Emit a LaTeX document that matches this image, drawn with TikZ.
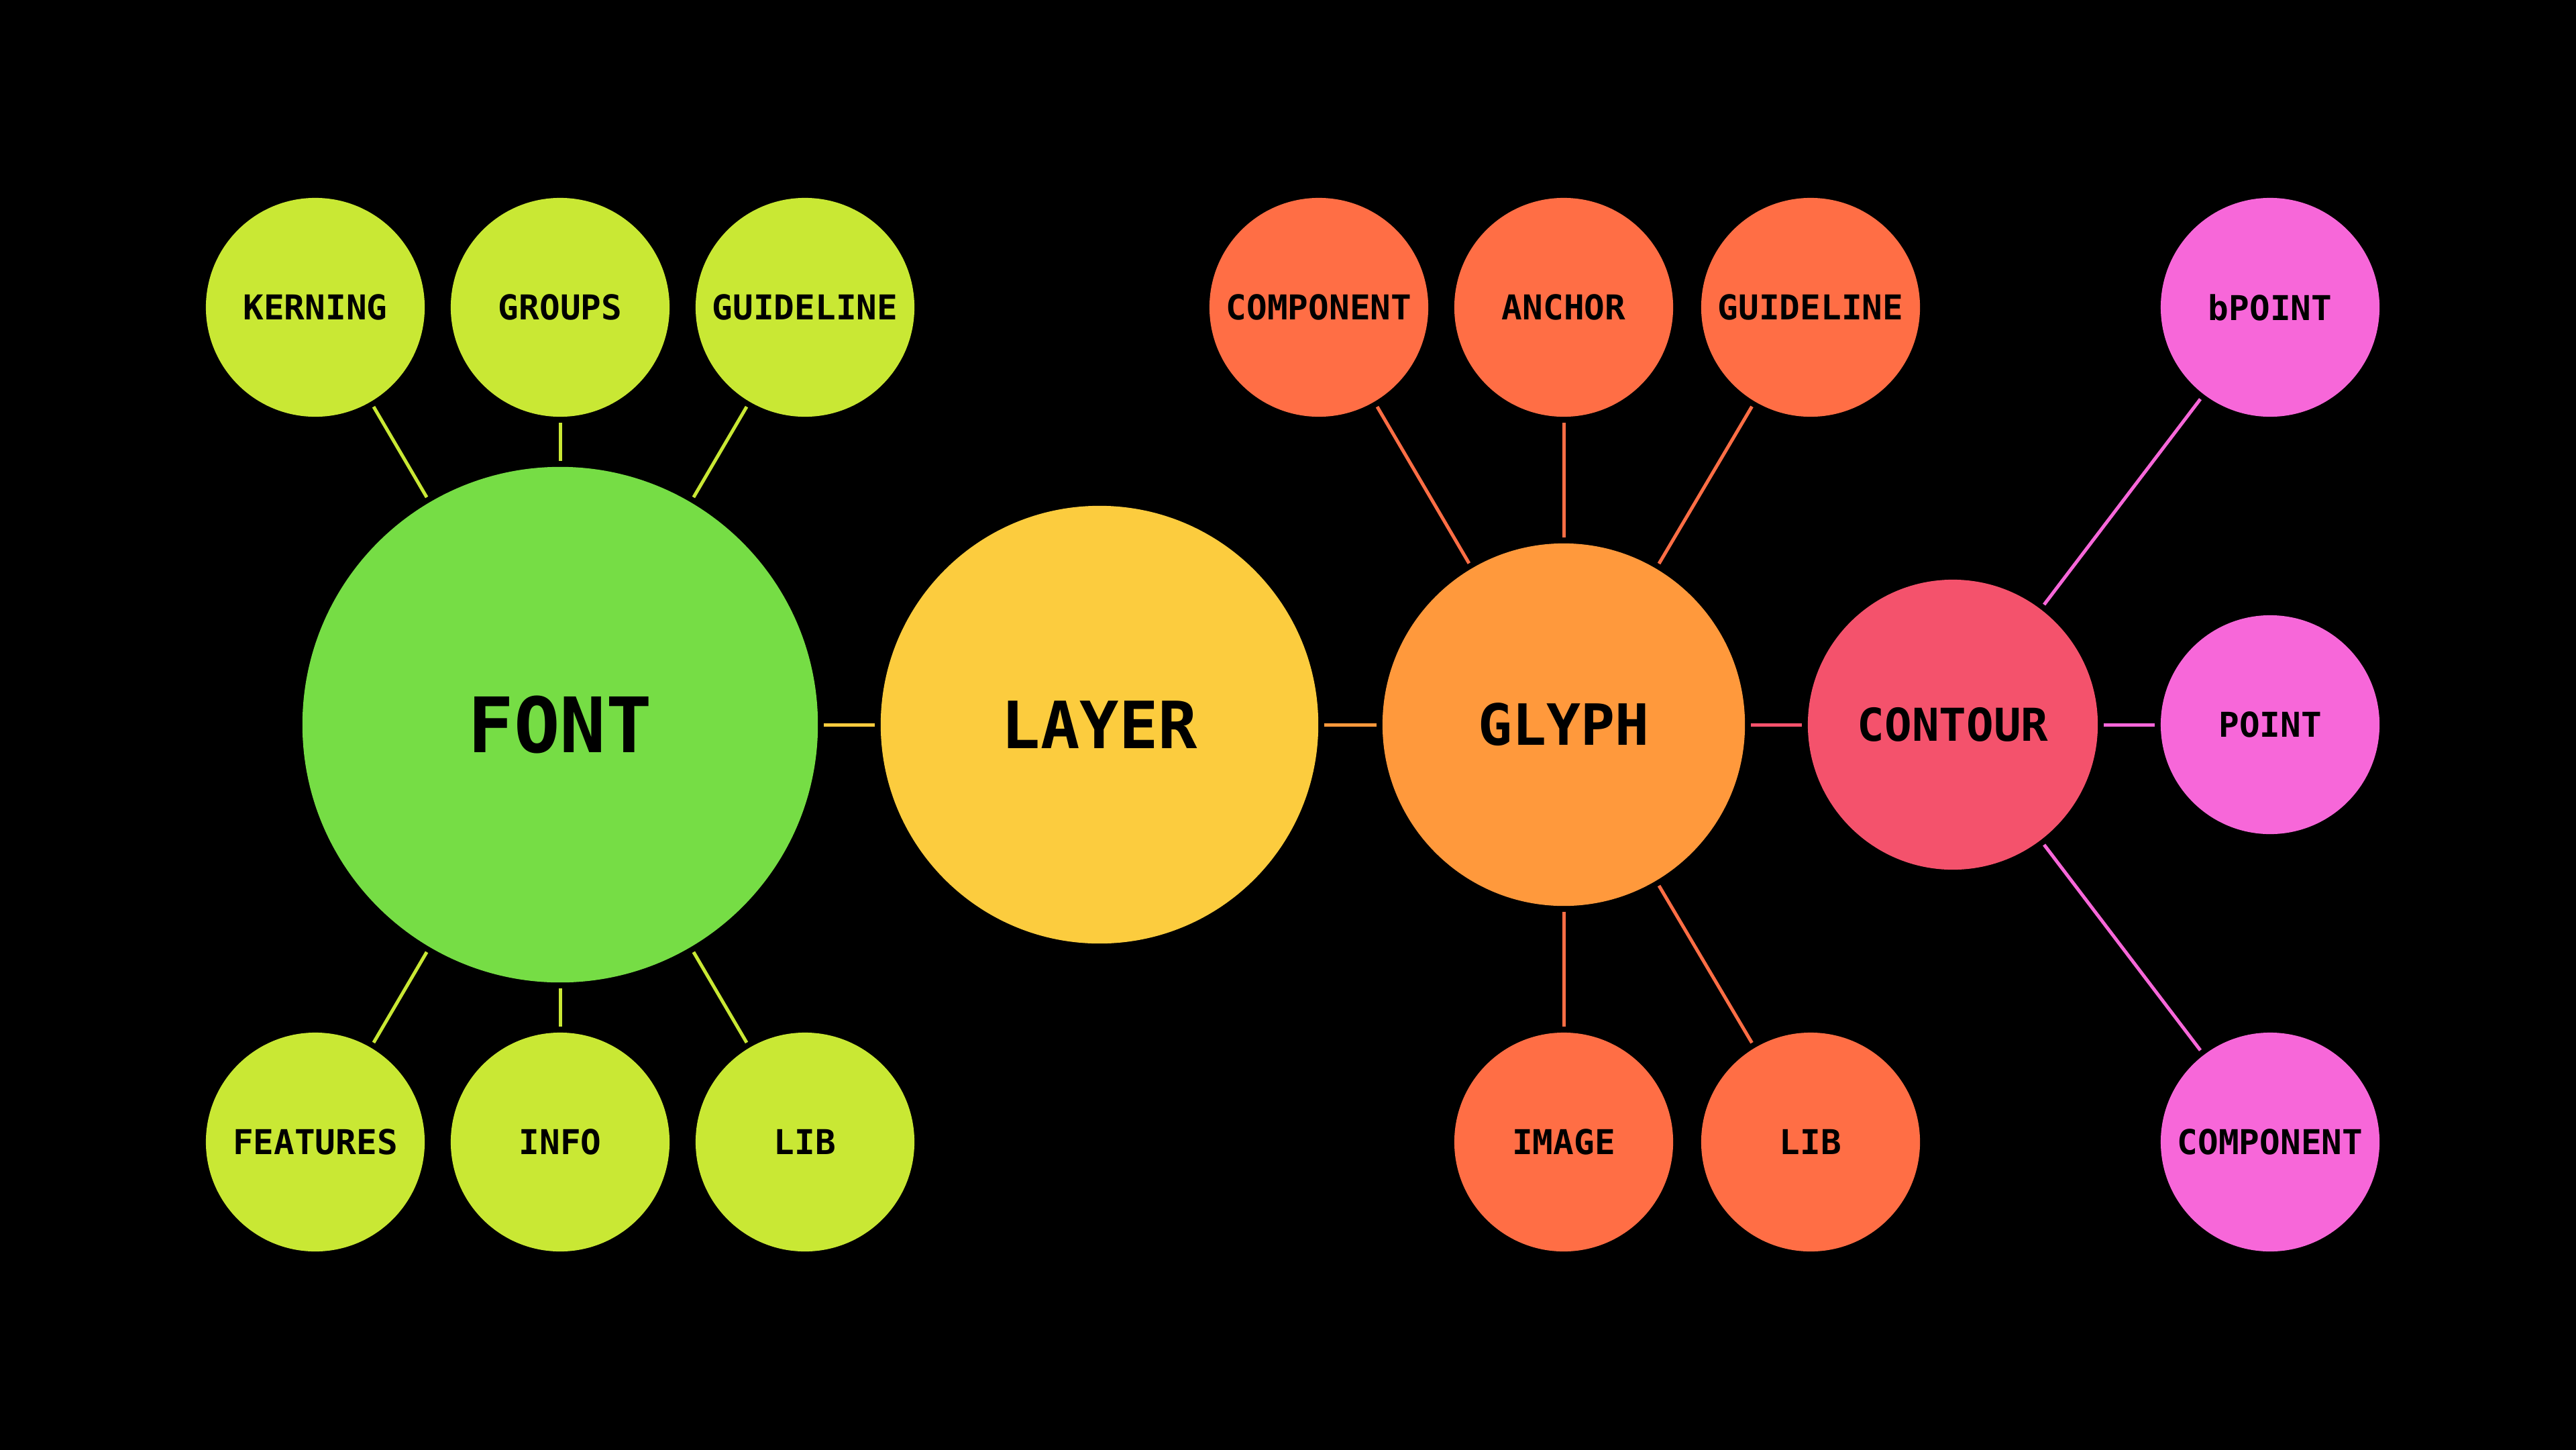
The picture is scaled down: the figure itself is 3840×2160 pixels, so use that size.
\documentclass[tikz,border=0pt]{standalone}
\usepackage{fontspec}
\newfontfamily\lblfont{DejaVu Sans Mono}
\definecolor{cLime}{HTML}{C9E834}
\definecolor{cFont}{HTML}{76DD45}
\definecolor{cLayer}{HTML}{FCCC3E}
\definecolor{cGlyph}{HTML}{FF993C}
\definecolor{cGchild}{HTML}{FF6E45}
\definecolor{cContour}{HTML}{F4526C}
\definecolor{cPink}{HTML}{F767D9}
\begin{document}
\begin{tikzpicture}[x=0.01cm,y=-0.01cm,
  bub/.style={circle,inner sep=0pt,text=black,
    font=\lblfont\bfseries\fontsize{14.5pt}{17pt}\selectfont,
    minimum size=3.26cm},
  lime/.style={bub,fill=cLime},
  gchild/.style={bub,fill=cGchild},
  pinkb/.style={bub,fill=cPink},
  link/.style={line width=0.05cm,shorten <=0.08cm,shorten >=0.08cm}]
\useasboundingbox (0,0) rectangle (3840,2160);
\fill[black] (-20,-20) rectangle (3860,2180);
% main chain
\node[bub,fill=cFont,minimum size=7.68cm,font=\lblfont\bfseries\fontsize{32.4pt}{38pt}\selectfont] (font) at (835,1080) {FONT};
\node[bub,fill=cLayer,minimum size=6.52cm,font=\lblfont\bfseries\fontsize{27.6pt}{33pt}\selectfont] (layer) at (1639,1080) {LAYER};
\node[bub,fill=cGlyph,minimum size=5.40cm,font=\lblfont\bfseries\fontsize{24.1pt}{29pt}\selectfont] (glyph) at (2331,1080) {GLYPH};
\node[bub,fill=cContour,minimum size=4.32cm,font=\lblfont\bfseries\fontsize{19.2pt}{23pt}\selectfont] (contour) at (2911,1080) {CONTOUR};
% font children
\node[lime] (kerning) at (470,458) {KERNING};
\node[lime] (groups) at (835,458) {GROUPS};
\node[lime] (fguide) at (1200,458) {GUIDELINE};
\node[lime] (features) at (470,1702) {FEATURES};
\node[lime] (info) at (835,1702) {INFO};
\node[lime] (flib) at (1200,1702) {LIB};
% glyph children
\node[gchild] (gcomp) at (1966,458) {COMPONENT};
\node[gchild] (anchor) at (2331,458) {ANCHOR};
\node[gchild] (gguide) at (2699,458) {GUIDELINE};
\node[gchild] (image) at (2331,1702) {IMAGE};
\node[gchild] (glib) at (2699,1702) {LIB};
% contour children
\node[pinkb] (bpoint) at (3384,458) {bPOINT};
\node[pinkb] (point) at (3384,1080) {POINT};
\node[pinkb] (ccomp) at (3384,1702) {COMPONENT};
% connectors
\draw[link,cLayer] (font) -- (layer);
\draw[link,cGlyph] (layer) -- (glyph);
\draw[link,cContour] (glyph) -- (contour);
\foreach \c in {kerning,groups,fguide,features,info,flib}
  \draw[link,cLime] (font) -- (\c);
\foreach \c in {gcomp,anchor,gguide,image,glib}
  \draw[link,cGchild] (glyph) -- (\c);
\foreach \c in {bpoint,point,ccomp}
  \draw[link,cPink] (contour) -- (\c);
\end{tikzpicture}
\end{document}
